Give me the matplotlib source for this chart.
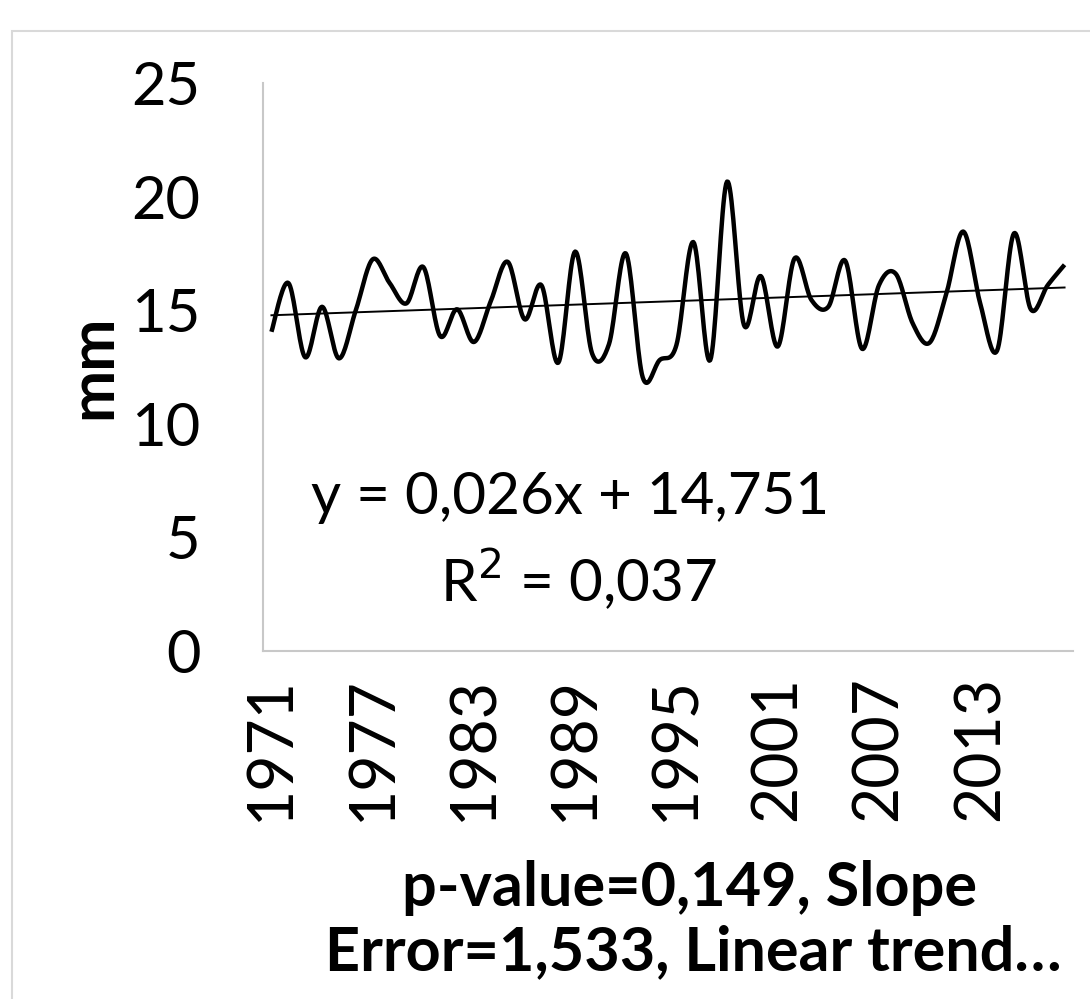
import matplotlib.pyplot as plt
import matplotlib.patches as mpatches
import numpy as np

# %% data
years = list(range(1971, 2019))
values = [14.05, 16.2, 12.93, 15.15, 12.88, 15.0, 17.24, 16.2, 15.3, 16.9,
          13.86, 15.04, 13.6, 15.4, 17.13, 14.6, 16.1, 12.69, 17.58, 13.1,
          13.5, 17.5, 12.05, 12.8, 13.47, 18.0, 12.8, 20.66, 14.35, 16.5,
          13.4, 17.28, 15.45, 15.15, 17.18, 13.3, 16.1, 16.6, 14.42, 13.57,
          15.74, 18.46, 15.3, 13.22, 18.38, 15.04, 16.1, 17.0]
tick_years = [1971, 1977, 1983, 1989, 1995, 2001, 2007, 2013]
trend_slope = 0.026
trend_icept = 14.751


# %% smoothed line like a spreadsheet "smoothed line" (bezier through the points)
def smooth(x, y, n=20):
    x = np.asarray(x, float)
    y = np.asarray(y, float)
    px = np.concatenate([[x[0]], x, [x[-1]]])
    py = np.concatenate([[y[0]], y, [y[-1]]])
    xs, ys = [], []
    t = np.linspace(0, 1, n)
    for i in range(1, len(px) - 2):
        p0 = np.array([px[i], py[i]])
        p3 = np.array([px[i + 1], py[i + 1]])
        c1 = p0 + (np.array([px[i + 1], py[i + 1]]) - np.array([px[i - 1], py[i - 1]])) / 6
        c2 = p3 - (np.array([px[i + 2], py[i + 2]]) - np.array([px[i], py[i]])) / 6
        b = ((1 - t) ** 3)[:, None] * p0 + (3 * (1 - t) ** 2 * t)[:, None] * c1 \
            + (3 * (1 - t) * t ** 2)[:, None] * c2 + (t ** 3)[:, None] * p3
        xs.extend(b[:, 0])
        ys.extend(b[:, 1])
    return np.array(xs), np.array(ys)


plt.rcParams['font.family'] = ['Lato', 'DejaVu Sans']

fig = plt.figure(figsize=(10.9, 9.99), dpi=100)
ax = fig.add_axes([263 / 1090, 1 - 651 / 999, 810 / 1090, 568 / 999])

idx = np.arange(len(values))
sx, sy = smooth(idx, values)
ax.plot(sx, sy, color='black', lw=3.2, solid_capstyle='butt')

trend = trend_icept + trend_slope * (idx + 1)
ax.plot(idx, trend, color='black', lw=1.4)

ax.set_xlim(-0.5, len(values) - 0.5)
ax.set_ylim(0, 25)
ax.set_yticks([0, 5, 10, 15, 20, 25])
ax.set_xticks([years.index(y) for y in tick_years])
ax.set_xticklabels([str(y) for y in tick_years], rotation=90)
ax.tick_params(length=0, labelsize=43, colors='black')
ax.tick_params(axis='y', pad=45)
ax.tick_params(axis='x', pad=18, labelsize=45)
for side in ['top', 'right']:
    ax.spines[side].set_visible(False)
for side in ['left', 'bottom']:
    ax.spines[side].set_color('#c8c8c8')
    ax.spines[side].set_linewidth(1.5)

ax.set_ylabel('mm', fontsize=45, fontweight='bold')
ax.yaxis.set_label_coords(-0.174, 0.5)

ax.text(570 / 1090, 1 - 497 / 999, 'y = 0,026x + 14,751', transform=fig.transFigure,
        ha='center', va='center', fontsize=42)
ax.text(578 / 1090, 1 - 580 / 999, 'R$^2$ = 0,037', transform=fig.transFigure,
        ha='center', va='center', fontsize=42)

fig.text(690 / 1090, 1 - 888 / 999, 'p-value=0,149, Slope', ha='center', va='center',
         fontsize=44, fontweight='bold')
fig.text(693 / 1090, 1 - 952 / 999, 'Error=1,533, Linear trend…', ha='center', va='center',
         fontsize=44, fontweight='bold')

border = mpatches.Rectangle((12 / 1090, -0.05), 1.1, 1 - 31 / 999 + 0.05,
                            transform=fig.transFigure, fill=False,
                            edgecolor='#d9d9d9', lw=1.5)
fig.patches.append(border)

fig.savefig('out.png', dpi=100)
